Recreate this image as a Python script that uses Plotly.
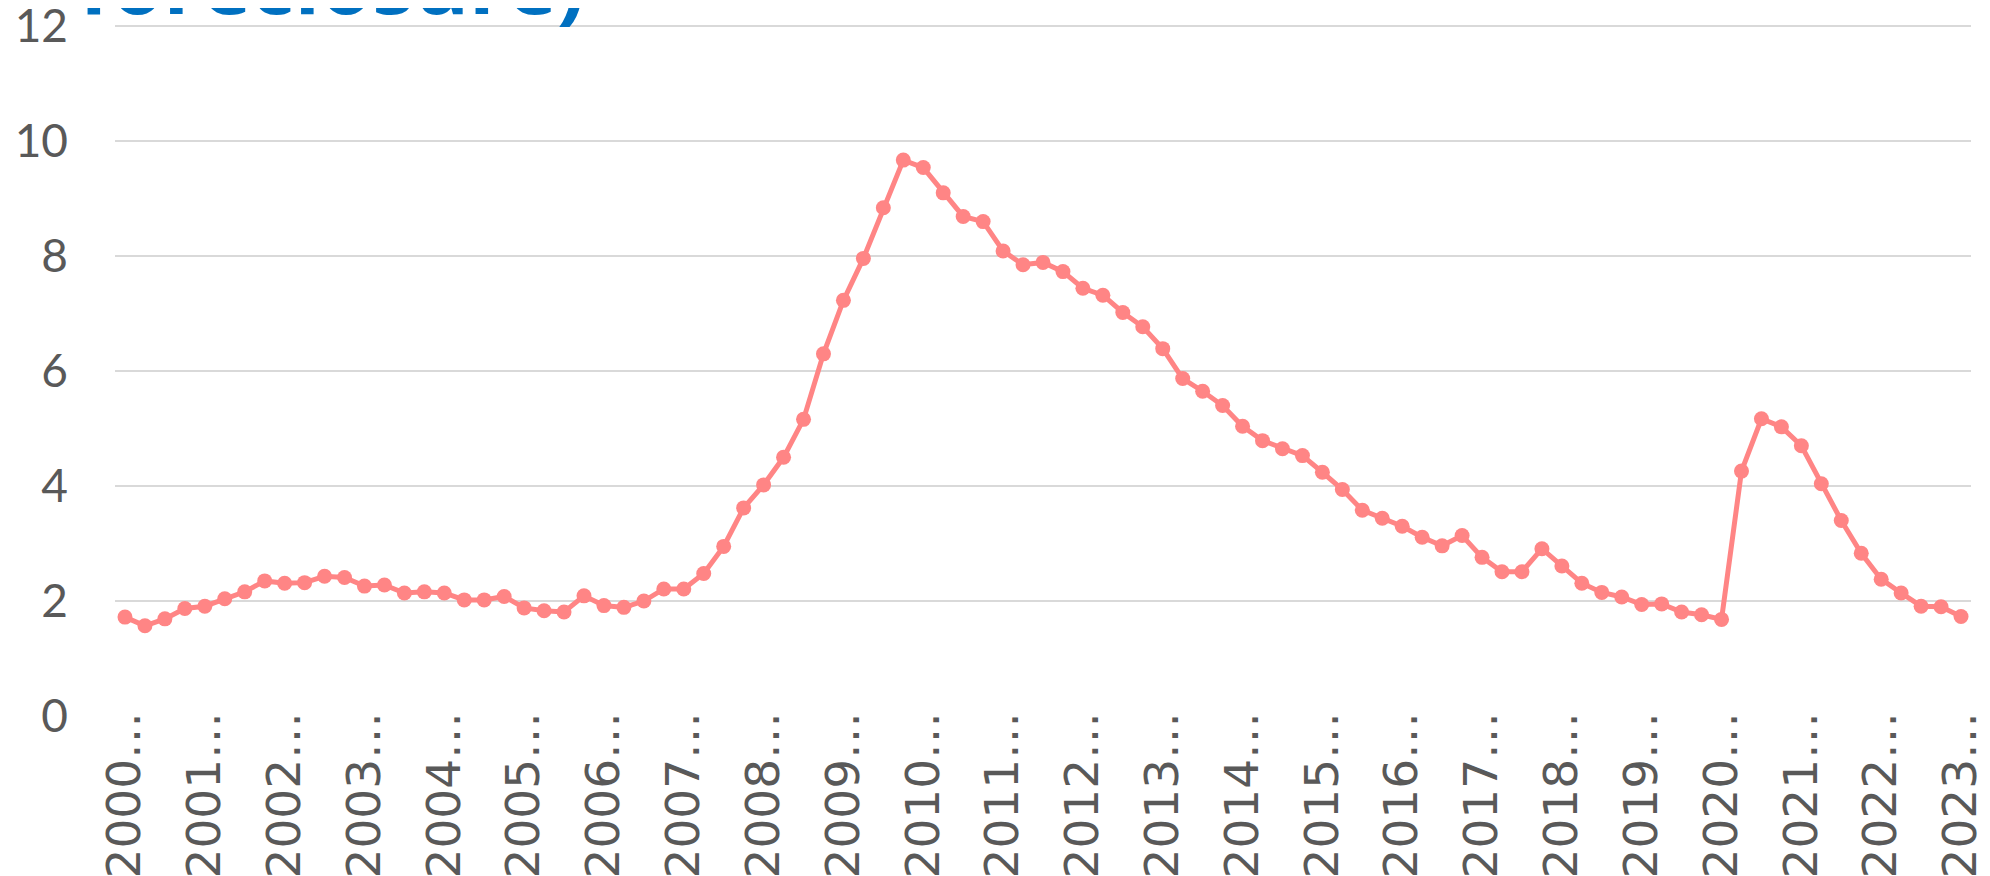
import plotly.graph_objects as go

years = list(range(2000, 2024))
quarters = [f"{y} Q{q}" for y in years for q in range(1, 5)][:93]

delinquency_rate = [
    1.72, 1.57, 1.69, 1.87, 1.91, 2.04, 2.16, 2.35, 2.31, 2.32,
    2.43, 2.41, 2.26, 2.28, 2.14, 2.16, 2.14, 2.02, 2.02, 2.08,
    1.88, 1.83, 1.81, 2.09, 1.92, 1.89, 2.00, 2.21, 2.21, 2.48,
    2.95, 3.62, 4.02, 4.50, 5.16, 6.30, 7.23, 7.96, 8.84, 9.67,
    9.54, 9.10, 8.69, 8.60, 8.09, 7.85, 7.89, 7.73, 7.44, 7.32,
    7.02, 6.77, 6.39, 5.87, 5.65, 5.40, 5.04, 4.79, 4.65, 4.53,
    4.24, 3.94, 3.58, 3.44, 3.30, 3.11, 2.96, 3.14, 2.76, 2.51,
    2.51, 2.91, 2.61, 2.31, 2.15, 2.07, 1.94, 1.95, 1.81, 1.76,
    1.68, 4.26, 5.17, 5.03, 4.70, 4.04, 3.40, 2.83, 2.38, 2.14,
    1.91, 1.90, 1.73,
]

tick_positions = quarters[::4]
tick_labels = [f"{y}…" for y in years]
y_ticks = [0, 2, 4, 6, 8, 10, 12]

title_text = "foreclosure)"

fig = go.Figure()
fig.add_trace(go.Scatter(
    x=quarters, y=delinquency_rate, mode="lines+markers",
    line=dict(color="#FF8585", width=5),
    marker=dict(color="#FF8585", size=15),
    showlegend=False, cliponaxis=False,
))

fig.update_layout(
    width=1990, height=876,
    margin=dict(l=107, r=27, t=17, b=168),
    paper_bgcolor="white", plot_bgcolor="white",
    xaxis=dict(
        type="category", range=[-0.5, 92.5], automargin=False,
        anchor="free", position=0.021,
        tickmode="array", tickvals=tick_positions, ticktext=tick_labels,
        tickangle=-90, showgrid=False, zeroline=False, showline=False,
        tickfont=dict(family="DejaVu Sans", size=47, color="#595959"),
        ticks="", ticklabeloverflow="allow",
    ),
    yaxis=dict(
        range=[0, 12.02], tickmode="array", tickvals=y_ticks, automargin=False,
        showgrid=True, gridcolor="#D9D9D9", gridwidth=2,
        zeroline=False, showline=False, ticks="",
        tickfont=dict(family="Lato", size=46, color="#595959"),
        ticklabelstandoff=46, ticklabeloverflow="allow",
    ),
    annotations=[dict(
        text=title_text, xref="paper", yref="paper",
        x=-0.0205, y=1.0, xanchor="left", yanchor="bottom",
        yshift=-16, showarrow=False, align="left",
        font=dict(family="Open Sans", size=84, color="#0070C0", weight="bold"),
    )],
)

fig.write_html("out.html")
